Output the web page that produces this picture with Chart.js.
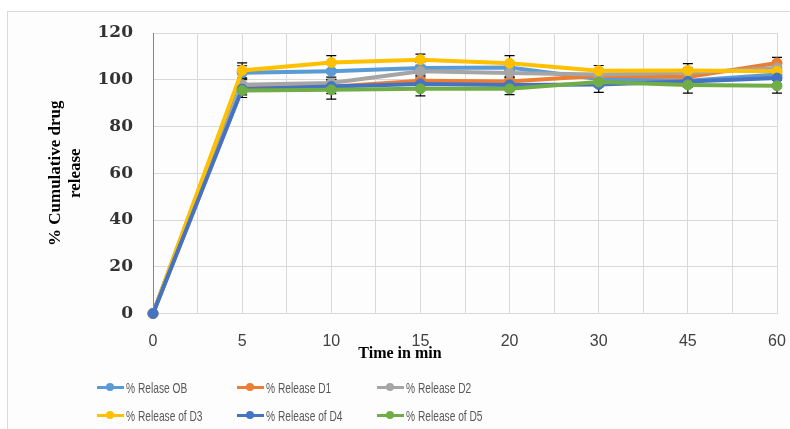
<!DOCTYPE html>
<html>
<head>
<meta charset="utf-8">
<script src="https://cdn.jsdelivr.net/npm/chart.js@4/dist/chart.umd.min.js"></script>
<style>
  html, body { margin: 0; padding: 0; background: #ffffff; }
  #wrap { position: relative; width: 790px; height: 429px; overflow: hidden; background: #ffffff; }
  #frame { position: absolute; left: 7px; top: 11px; width: 900px; height: 500px;
           border-left: 1px solid #d9d9d9; border-top: 1px solid #d9d9d9; background: #fdfdfd; }
  #cv { position: absolute; left: 0; top: 0; width: 790px; height: 429px; }
  .leg { position: absolute; height: 16px; display: flex; align-items: center; white-space: nowrap; }
  .leg .mk { position: relative; width: 27px; height: 16px; flex: none; }
  .leg .mk .ln { position: absolute; left: 0; right: 0; top: 6.5px; height: 3px; }
  .leg .mk .dt { position: absolute; left: 9px; top: 4px; width: 8px; height: 8px; border-radius: 50%; }
  .leg .tx { font-family: "Liberation Sans", Arial, sans-serif; font-size: 15px; color: #595959;
             transform: scaleX(0.68); transform-origin: left center; margin-left: 2px; }
</style>
</head>
<body>
<div id="wrap">
  <div id="frame"></div>
  <canvas id="cv" width="790" height="429"></canvas>
</div>
<script>
// ---- data ----
const categories = ['0', '5', '10', '15', '20', '30', '45', '60'];
const seriesNames = ['% Relase OB', '% Release D1', '% Release D2', '% Release of D3', '% Release of D4', '% Release of D5'];
const relOB = [0, 103.0, 103.6, 105.0, 105.2, 100.3, 99.6, 102.2];
const relD1 = [0, 96.5, 97.0, 99.6, 99.3, 101.7, 101.2, 107.2];
const relD2 = [0, 97.9, 98.6, 103.6, 102.9, 102.2, 103.0, 105.0];
const relD3 = [0, 104.0, 107.4, 108.6, 107.1, 103.9, 104.0, 103.6];
const relD4 = [0, 96.0, 97.1, 98.2, 97.8, 98.0, 99.3, 100.7];
const relD5 = [null, 95.4, 95.7, 96.1, 96.1, 99.0, 97.8, 97.4];
const errOB = [0, 3.0, 3.4, 2.5, 2.5, 2.5, 2.5, 2.5];
const errD1 = [0, 2.0, 2.0, 2.0, 2.0, 2.0, 2.0, 2.4];
const errD2 = [0, 2.5, 2.5, 2.0, 2.0, 2.0, 2.0, 2.0];
const errD3 = [0, 3.2, 2.9, 2.4, 3.2, 2.2, 2.9, 2.0];
const errD4 = [0, 2.5, 3.0, 2.5, 2.5, 3.4, 2.5, 2.5];
const errD5 = [0, 3.0, 4.0, 3.0, 2.5, 2.0, 3.5, 3.1];
const yTicks = [0, 20, 40, 60, 80, 100, 120];

const values = [relOB, relD1, relD2, relD3, relD4, relD5];
const errors = [errOB, errD1, errD2, errD3, errD4, errD5];
const colors = ['#5B9BD5', '#ED7D31', '#A5A5A5', '#FFC000', '#4472C4', '#70AD47'];

const datasets = values.map((arr, k) => ({
  label: seriesNames[k],
  data: arr.map((v, i) => ({ x: i, y: v })),
  errors: errors[k],
  borderColor: colors[k],
  backgroundColor: colors[k],
  pointBackgroundColor: colors[k],
  pointBorderColor: colors[k],
  borderWidth: 4,
  pointRadius: 5,
  pointBorderWidth: 1,
  tension: 0,
  clip: false,
  order: values.length - k
}));

const errorBars = {
  id: 'errorBars',
  beforeDatasetsDraw(chart) {
    const ctx = chart.ctx, xs = chart.scales.x, ys = chart.scales.y;
    ctx.save();
    ctx.strokeStyle = '#000000';
    ctx.lineWidth = 1.2;
    chart.data.datasets.forEach(ds => {
      ds.data.forEach((p, i) => {
        const e = ds.errors[i];
        if (!e || p.y === null) return;
        const x = xs.getPixelForValue(p.x);
        const y1 = ys.getPixelForValue(p.y + e);
        const y2 = ys.getPixelForValue(p.y - e);
        ctx.beginPath();
        ctx.moveTo(x, y1); ctx.lineTo(x, y2);
        ctx.moveTo(x - 5, y1); ctx.lineTo(x + 5, y1);
        ctx.moveTo(x - 5, y2); ctx.lineTo(x + 5, y2);
        ctx.stroke();
      });
    });
    ctx.restore();
  }
};

const xTitle = {
  id: 'xTitle',
  afterDraw(chart) {
    const ctx = chart.ctx;
    ctx.save();
    ctx.font = 'bold 16px "Liberation Serif", "Times New Roman", serif';
    ctx.fillStyle = '#000000';
    ctx.textAlign = 'center';
    ctx.textBaseline = 'middle';
    ctx.fillText('Time in min', 400, 354);
    ctx.restore();
  }
};

new Chart(document.getElementById('cv'), {
  type: 'line',
  data: { datasets },
  options: {
    responsive: false,
    animation: false,
    devicePixelRatio: 1,
    layout: { padding: { left: 0, right: 13, top: 33, bottom: 0 } },
    plugins: { legend: { display: false }, tooltip: { enabled: false } },
    scales: {
      x: {
        type: 'linear', min: 0, max: 7,
        afterFit(s) { s.height = 115.5; s.paddingRight = 0; s.paddingLeft = 0; },
        afterBuildTicks(s) {
          const t = [];
          for (let i = 0; i <= 14; i++) t.push({ value: i / 2 });
          s.ticks = t;
        },
        ticks: {
          autoSkip: false, maxRotation: 0, padding: 18,
          color: '#404040',
          font: { family: '"Liberation Sans", Arial, sans-serif', size: 16 },
          callback: (v) => Number.isInteger(v) ? categories[v] : ''
        },
        grid: { color: '#d9d9d9', lineWidth: 1, drawTicks: false },
        border: { color: '#d9d9d9' }
      },
      y: {
        min: 0, max: 120,
        afterFit(s) { s.width = 153; s.paddingTop = 0; s.paddingBottom = 0; },
        afterBuildTicks(s) { s.ticks = yTicks.map(v => ({ value: v })); },
        ticks: {
          padding: 20, color: '#333333',
          font: { family: '"DejaVu Serif", serif', size: 17, weight: 'bold' }
        },
        grid: { color: '#d9d9d9', lineWidth: 1, drawTicks: false },
        border: { color: '#868686' },
        title: {
          display: true,
          text: ['% Cumulative drug', 'release'],
          color: '#000000',
          padding: { top: 46, bottom: 0 },
          font: { family: '"Liberation Serif", "Times New Roman", serif', size: 17, weight: 'bold', lineHeight: 1.15 }
        }
      }
    }
  },
  plugins: [errorBars, xTitle]
});

// HTML legend built from the datasets
const legPos = [[97, 379], [237, 379], [377, 379], [97, 407], [237, 407], [377, 407]];
const wrap = document.getElementById('wrap');
datasets.forEach((ds, k) => {
  const d = document.createElement('div');
  d.className = 'leg';
  d.style.left = legPos[k][0] + 'px';
  d.style.top = legPos[k][1] + 'px';
  d.innerHTML = '<span class="mk"><span class="ln" style="background:' + ds.borderColor +
    '"></span><span class="dt" style="background:' + ds.borderColor + '"></span></span>' +
    '<span class="tx"></span>';
  d.querySelector('.tx').textContent = ds.label;
  wrap.appendChild(d);
});
</script>
</body>
</html>
